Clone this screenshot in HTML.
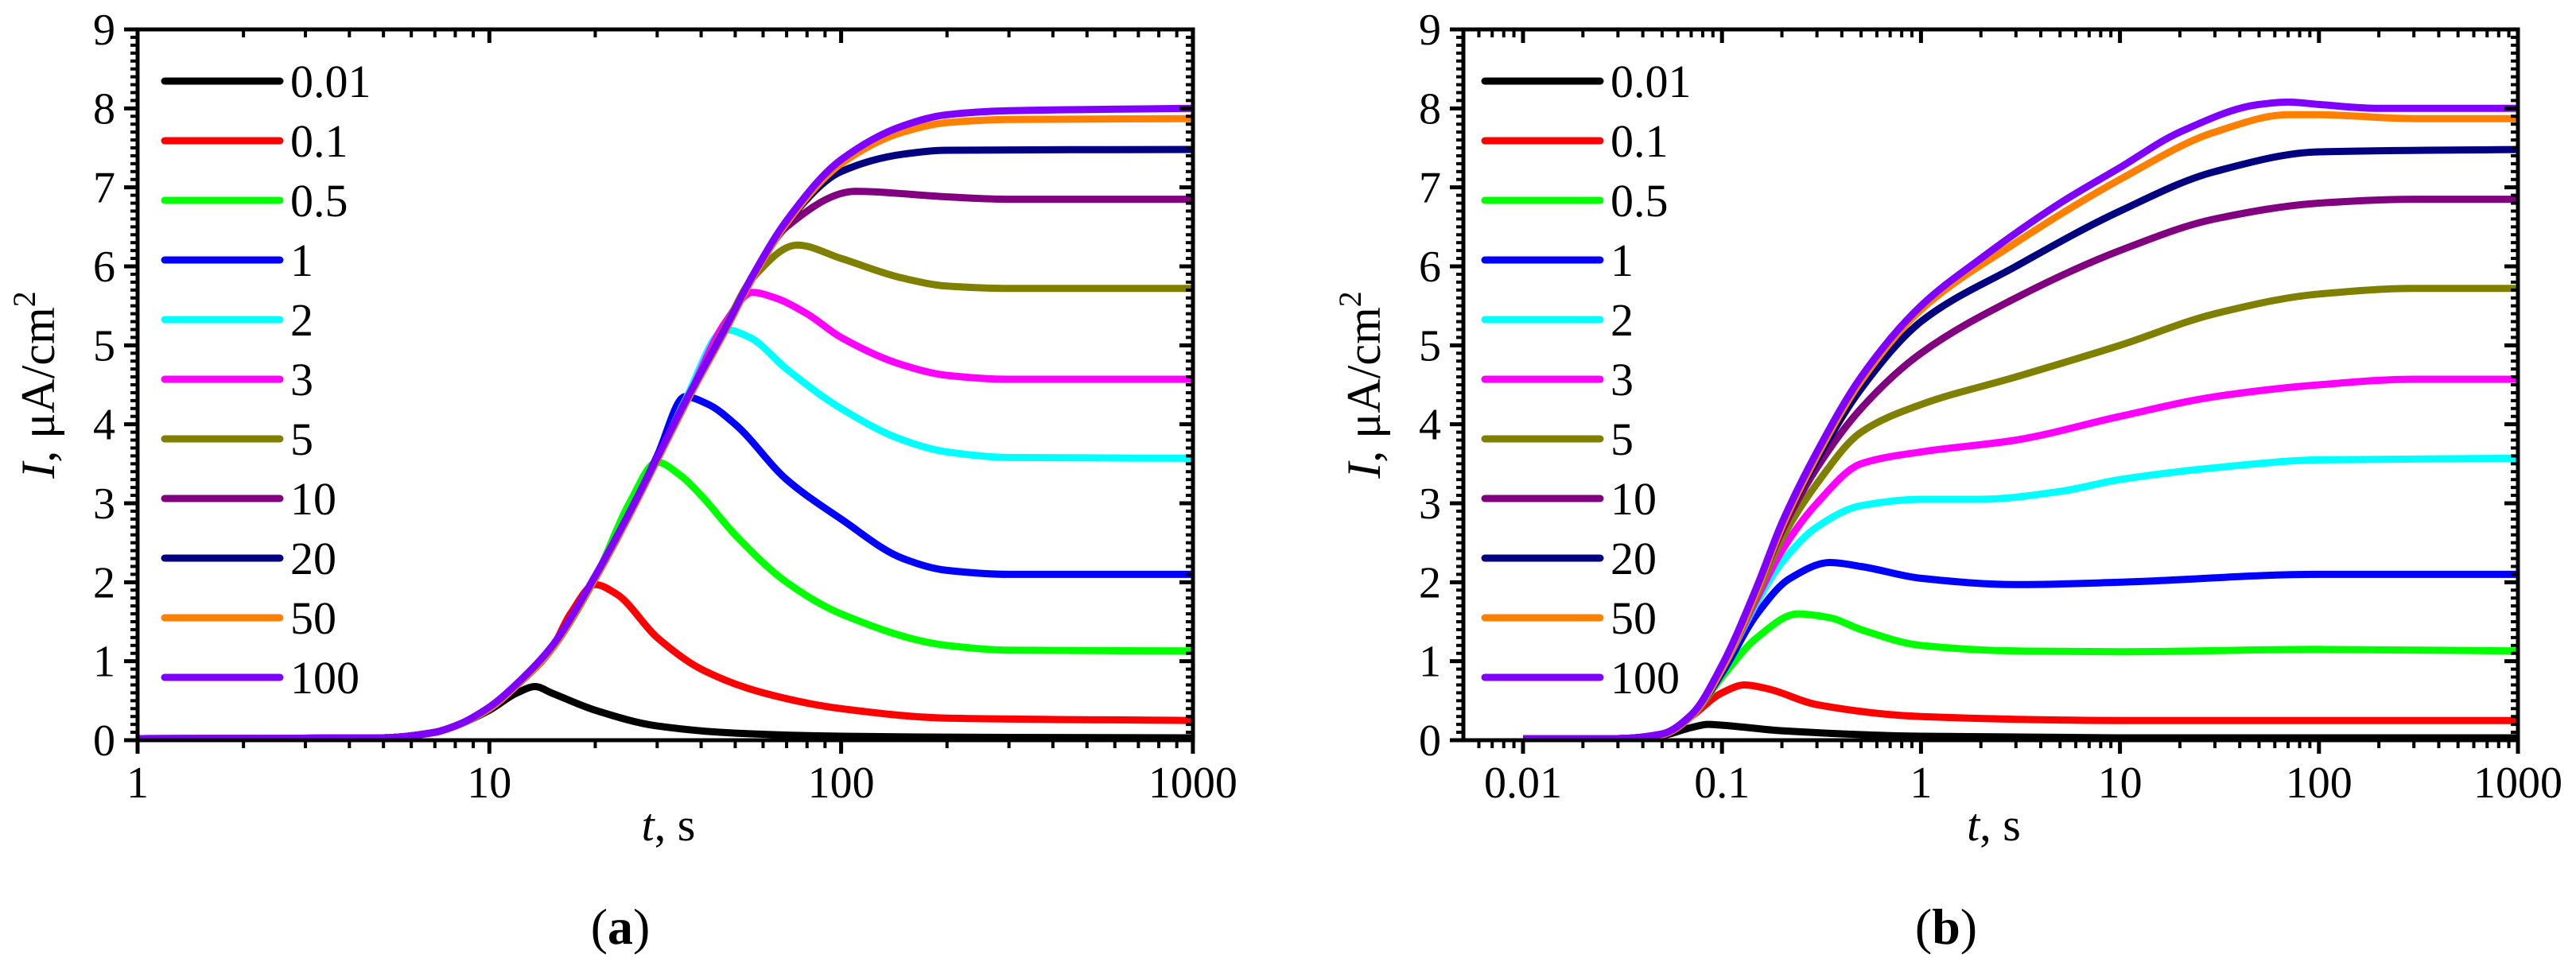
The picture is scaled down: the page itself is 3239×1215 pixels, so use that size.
<!DOCTYPE html>
<html><head><meta charset="utf-8"><style>
html,body{margin:0;padding:0;background:#fff;}
svg{display:block;font-family:"Liberation Serif",serif;}
</style></head><body>
<svg id="fig" width="3239" height="1215" viewBox="0 0 3239 1215" xmlns="http://www.w3.org/2000/svg"></svg>
<script>
const labels = ["0.01","0.1","0.5","1","2","3","5","10","20","50","100"];
const colors = ["#000000","#ff0000","#00ff00","#0000ff","#00ffff","#ff00ff","#808000","#800080","#000080","#ff8000","#8000ff"];
const yTicks = [0,1,2,3,4,5,6,7,8,9];
const xTicksA = [1,10,100,1000];
const xTickLabelsA = ["1","10","100","1000"];
const xTicksB = [0.01,0.1,1,10,100,1000];
const xTickLabelsB = ["0.01","0.1","1","10","100","1000"];
// panel (a) series: [t, I]
const seriesA_001 = [[1,0.02],[5,0.03],[7,0.1],[8,0.18],[10,0.38],[12,0.6],[13.5,0.68],[15,0.6],[20,0.38],[30,0.18],[50,0.09],[100,0.05],[300,0.035],[1000,0.03]];
const seriesA_01 = [[1,0.02],[5,0.03],[7,0.1],[8,0.18],[10,0.4],[12,0.7],[15,1.15],[17,1.6],[20,1.97],[23,1.85],[30,1.3],[40,0.9],[60,0.6],[100,0.4],[200,0.28],[1000,0.25]];
const seriesA_05 = [[1,0.02],[5,0.03],[7,0.1],[8,0.18],[10,0.4],[12,0.7],[15,1.15],[20,2.05],[25,3.0],[30,3.52],[35,3.35],[40,3.1],[50,2.6],[70,2.0],[100,1.6],[200,1.2],[300,1.14],[1000,1.13]];
const seriesA_1 = [[1,0.02],[5,0.03],[7,0.1],[8,0.18],[10,0.4],[12,0.7],[15,1.15],[20,2.05],[25,2.85],[30,3.6],[36,4.35],[42,4.25],[50,4.0],[70,3.3],[100,2.8],[150,2.3],[200,2.15],[300,2.1],[1000,2.1]];
const seriesA_2 = [[1,0.02],[5,0.03],[7,0.1],[8,0.18],[10,0.4],[12,0.7],[15,1.15],[20,2.05],[25,2.85],[30,3.55],[36,4.3],[47,5.2],[55,5.1],[70,4.7],[100,4.2],[150,3.8],[200,3.65],[300,3.58],[1000,3.57]];
const seriesA_3 = [[1,0.02],[5,0.03],[7,0.1],[8,0.18],[10,0.4],[12,0.7],[15,1.15],[20,2.05],[25,2.85],[30,3.55],[36,4.25],[47,5.3],[56,5.67],[65,5.6],[80,5.4],[100,5.1],[150,4.75],[200,4.62],[300,4.57],[1000,4.57]];
const seriesA_5 = [[1,0.02],[5,0.03],[7,0.1],[8,0.18],[10,0.4],[12,0.7],[15,1.15],[20,2.05],[25,2.85],[30,3.55],[36,4.25],[47,5.25],[56,5.85],[75,6.27],[100,6.1],[150,5.85],[200,5.75],[300,5.72],[1000,5.72]];
const seriesA_10 = [[1,0.02],[5,0.03],[7,0.1],[8,0.18],[10,0.4],[12,0.7],[15,1.15],[20,2.05],[25,2.85],[30,3.55],[36,4.25],[47,5.2],[56,5.85],[70,6.5],[110,6.95],[200,6.88],[300,6.85],[1000,6.85]];
const seriesA_20 = [[1,0.02],[5,0.03],[7,0.1],[8,0.18],[10,0.4],[12,0.7],[15,1.15],[20,2.05],[25,2.85],[30,3.55],[36,4.25],[47,5.2],[56,5.85],[70,6.55],[100,7.2],[150,7.42],[200,7.47],[1000,7.48]];
const seriesA_50 = [[1,0.02],[5,0.03],[7,0.1],[8,0.18],[10,0.4],[12,0.7],[15,1.15],[20,2.05],[25,2.85],[30,3.55],[36,4.25],[47,5.2],[56,5.85],[70,6.55],[100,7.3],[150,7.7],[200,7.82],[300,7.86],[1000,7.87]];
const seriesA_100 = [[1,0.02],[5,0.03],[7,0.1],[8,0.18],[10,0.42],[12,0.72],[15,1.18],[20,2.08],[25,2.88],[30,3.58],[36,4.28],[47,5.23],[56,5.88],[70,6.58],[100,7.35],[150,7.78],[200,7.92],[300,7.97],[1000,8.0]];
// panel (b) series
const seriesB_001 = [[0.01,0.02],[0.03,0.02],[0.05,0.06],[0.07,0.16],[0.085,0.2],[0.1,0.19],[0.2,0.12],[1,0.05],[10,0.03],[1000,0.03]];
const seriesB_01 = [[0.01,0.02],[0.03,0.02],[0.05,0.07],[0.07,0.3],[0.1,0.6],[0.13,0.7],[0.17,0.65],[0.3,0.45],[1,0.3],[10,0.25],[1000,0.25]];
const seriesB_05 = [[0.01,0.02],[0.03,0.02],[0.05,0.07],[0.07,0.3],[0.1,0.8],[0.15,1.3],[0.24,1.6],[0.35,1.55],[0.5,1.4],[1,1.2],[3,1.13],[10,1.12],[100,1.15],[1000,1.13]];
const seriesB_1 = [[0.01,0.02],[0.03,0.02],[0.05,0.07],[0.07,0.3],[0.1,0.85],[0.15,1.6],[0.22,2.05],[0.35,2.25],[0.5,2.2],[1,2.05],[3,1.97],[10,2.0],[100,2.1],[1000,2.1]];
const seriesB_2 = [[0.01,0.02],[0.03,0.02],[0.05,0.07],[0.07,0.3],[0.1,0.9],[0.15,1.75],[0.2,2.25],[0.3,2.7],[0.5,2.97],[1,3.05],[2,3.05],[5,3.15],[10,3.3],[30,3.45],[100,3.55],[1000,3.57]];
const seriesB_3 = [[0.01,0.02],[0.03,0.02],[0.05,0.07],[0.07,0.3],[0.1,0.9],[0.15,1.8],[0.2,2.4],[0.3,3.0],[0.5,3.5],[1,3.65],[3,3.8],[10,4.1],[30,4.35],[100,4.5],[300,4.57],[1000,4.57]];
const seriesB_5 = [[0.01,0.02],[0.03,0.02],[0.05,0.07],[0.07,0.3],[0.1,0.9],[0.15,1.85],[0.2,2.55],[0.3,3.25],[0.5,3.9],[1,4.25],[3,4.6],[10,5.0],[30,5.4],[100,5.65],[300,5.72],[1000,5.72]];
const seriesB_10 = [[0.01,0.02],[0.03,0.02],[0.05,0.07],[0.07,0.3],[0.1,0.9],[0.15,1.9],[0.2,2.65],[0.3,3.45],[0.5,4.2],[1,4.9],[3,5.6],[10,6.2],[30,6.6],[100,6.8],[300,6.85],[1000,6.85]];
const seriesB_20 = [[0.01,0.02],[0.03,0.02],[0.05,0.07],[0.07,0.3],[0.1,0.9],[0.15,1.9],[0.2,2.7],[0.3,3.55],[0.5,4.45],[1,5.3],[3,6.0],[10,6.7],[30,7.2],[100,7.45],[1000,7.48]];
const seriesB_50 = [[0.01,0.02],[0.03,0.02],[0.05,0.07],[0.07,0.3],[0.1,0.9],[0.15,1.9],[0.2,2.7],[0.3,3.6],[0.5,4.55],[1,5.45],[3,6.3],[10,7.1],[30,7.7],[70,7.92],[100,7.92],[300,7.87],[1000,7.87]];
const seriesB_100 = [[0.01,0.02],[0.03,0.02],[0.05,0.08],[0.07,0.32],[0.1,0.95],[0.15,1.95],[0.2,2.75],[0.3,3.65],[0.5,4.6],[1,5.5],[2,6.1],[5,6.8],[10,7.25],[20,7.7],[50,8.05],[70,8.08],[100,8.05],[200,8.0],[1000,8.0]];
const seriesA = [seriesA_001,seriesA_01,seriesA_05,seriesA_1,seriesA_2,seriesA_3,seriesA_5,seriesA_10,seriesA_20,seriesA_50,seriesA_100];
const seriesB = [seriesB_001,seriesB_01,seriesB_05,seriesB_1,seriesB_2,seriesB_3,seriesB_5,seriesB_10,seriesB_20,seriesB_50,seriesB_100];

const NS="http://www.w3.org/2000/svg";
const svg=document.getElementById('fig');
function mk(tag,attrs,parent){const e=document.createElementNS(NS,tag);for(const k in attrs)e.setAttribute(k,attrs[k]);(parent||svg).appendChild(e);return e;}

function monoPath(pts){
  const n=pts.length; if(n<2) return '';
  const dx=[],dy=[],m=[];
  for(let i=0;i<n-1;i++){dx.push(pts[i+1][0]-pts[i][0]);dy.push(pts[i+1][1]-pts[i][1]);m.push(dy[i]/dx[i]);}
  const t=[m[0]];
  for(let i=1;i<n-1;i++){ if(m[i-1]*m[i]<=0) t.push(0); else { const w1=2*dx[i]+dx[i-1], w2=dx[i]+2*dx[i-1]; t.push((w1+w2)/(w1/m[i-1]+w2/m[i])); } }
  t.push(m[n-2]);
  let d='M'+pts[0][0].toFixed(1)+','+pts[0][1].toFixed(1);
  for(let i=0;i<n-1;i++){const h=dx[i]/3;
    d+=' C'+(pts[i][0]+h).toFixed(1)+','+(pts[i][1]+t[i]*h).toFixed(1)+' '+(pts[i+1][0]-h).toFixed(1)+','+(pts[i+1][1]-t[i+1]*h).toFixed(1)+' '+pts[i+1][0].toFixed(1)+','+pts[i+1][1].toFixed(1);}
  return d;
}

function panel(cfg){
  const g=mk('g',{});
  
  
  const L=cfg.left,R=cfg.right,T=37,B=931;
  const xs=t=>cfg.x0+cfg.dec*Math.log10(t);
  const ys=v=>B-(B-T)*v/9;
  const clipId='clip'+cfg.name;
  const cp=mk('clipPath',{id:clipId},g); mk('rect',{x:L,y:T,width:R-L,height:B-T},cp);
  const cg=mk('g',{'clip-path':'url(#'+clipId+')'},g);
  cfg.series.forEach((s,i)=>{
    const p=mk('path',{d:monoPath(s.map(q=>[xs(q[0]),ys(q[1])])),fill:'none',stroke:colors[i],'stroke-width':9,'stroke-linejoin':'round'},cg);
    
    
  });
  const ax=mk('g',{stroke:'#000','stroke-width':5,fill:'none'},g);
  
  
  mk('rect',{x:L,y:T,width:R-L,height:B-T},ax);
  for(let k=0;k<=90;k++){const v=k/10,y=ys(v);const major=(k%10===0);const len=major?17:9;
    mk('line',{x1:L,y1:y,x2:L-len,y2:y,'stroke-width':major?5:4},ax);
    mk('line',{x1:R,y1:y,x2:R-len,y2:y,'stroke-width':major?5:4},ax);}
  yTicks.forEach(v=>{const t=mk('text',{x:L-28,y:ys(v)+19,'text-anchor':'end','font-size':56,fill:'#000'},g);t.textContent=v;
    });
  const lo=Math.pow(10,(L-cfg.x0)/cfg.dec),hi=Math.pow(10,(R-cfg.x0)/cfg.dec);
  for(let e=Math.floor(Math.log10(lo));e<=Math.ceil(Math.log10(hi));e++){
    for(let m=1;m<10;m++){const t=m*Math.pow(10,e);if(t<lo*0.999||t>hi*1.001)continue;const x=xs(t);const major=m===1;const len=major?17:10;
      mk('line',{x1:x,y1:B,x2:x,y2:B+len,'stroke-width':major?5:4},ax);
      mk('line',{x1:x,y1:T,x2:x,y2:T+len,'stroke-width':major?5:4},ax);}}
  cfg.xt.forEach((v,i)=>{const t=mk('text',{x:xs(v),y:1003,'text-anchor':'middle','font-size':56,fill:'#000'},g);t.textContent=cfg.xl[i];
    });
  labels.forEach((lab,i)=>{const y=102+75*i;
    const lg=mk('g',{},g);
    mk('line',{x1:cfg.legX,y1:y,x2:cfg.legX+145,y2:y,stroke:colors[i],'stroke-width':9,'stroke-linecap':'round'},lg);
    const t=mk('text',{x:cfg.legX+158,y:y+20,'font-size':58,fill:'#000'},lg);t.textContent=lab;});
  const yt=mk('text',{x:0,y:0,transform:'translate('+(L-105)+','+((T+B)/2)+') rotate(-90)','text-anchor':'middle','font-size':60,fill:'#000'},g);
  
  yt.innerHTML='<tspan font-style="italic">I</tspan>, μA/cm<tspan dy="-24" font-size="40">2</tspan>';
  const xt=mk('text',{x:(L+R)/2+4,y:1057,'text-anchor':'middle','font-size':58,fill:'#000'},g);
  
  xt.innerHTML='<tspan font-style="italic">t</tspan>, s';
  const pl=mk('text',{x:cfg.labX,y:1187,'text-anchor':'middle','font-size':64,fill:'#000'},g);
  
  pl.innerHTML='(<tspan font-weight="bold">'+cfg.letter+'</tspan>)';
}
panel({name:'panel-a',left:173,right:1500,x0:173,dec:442.3,series:seriesA,xt:xTicksA,xl:xTickLabelsA,legX:207,labX:780,letter:'a'});
panel({name:'panel-b',left:1840,right:3166,x0:1915+2*250.2,dec:250.2,series:seriesB,xt:xTicksB,xl:xTickLabelsB,legX:1867,labX:2447,letter:'b'});
</script>
</body></html>
